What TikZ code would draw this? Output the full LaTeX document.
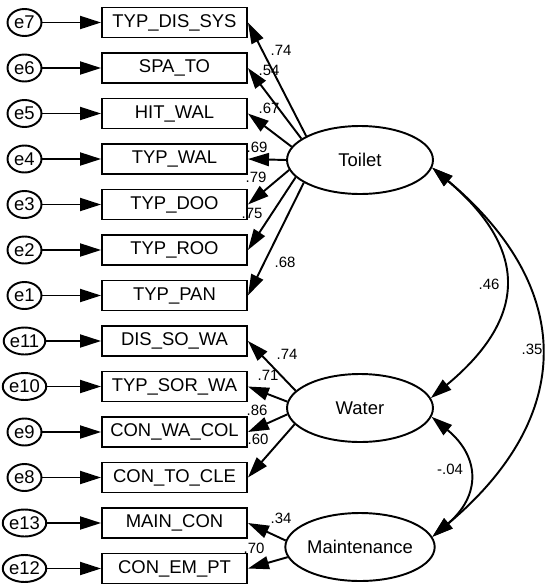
\documentclass[tikz,border=0pt]{standalone}
\usepackage{fontspec}
\setmainfont{Liberation Sans}
\usepackage{tikz}
\usetikzlibrary{positioning,calc,arrows.meta,shapes.geometric}

\begin{document}
\begin{tikzpicture}[
            x=0.02cm, y=-0.02cm,
            line width=1.1pt,
            font=\fontsize{10.5}{12}\selectfont,
            obs/.style={draw, rectangle, minimum width=2.9cm, minimum height=0.6cm, inner sep=0pt},
            err/.style={draw, ellipse, minimum width=0.68cm, minimum height=0.54cm, inner sep=0pt},
            latent/.style={draw, ellipse, minimum width=2.92cm, minimum height=1.36cm, inner sep=0pt},
            arrow/.style={-{Triangle[length=0.42cm, width=0.26cm]}},
            covarrow/.style={{Triangle[length=0.42cm, width=0.26cm]}-{Triangle[length=0.42cm, width=0.26cm]}},
            coef/.style={font=\fontsize{8.5}{10}\selectfont, inner sep=0pt}
        ]
            \useasboundingbox (0,0) rectangle (545,585);

            % observed variables
            \node[obs] (tds) at (174.5,22.5) {TYP\_DIS\_SYS};
            \node[obs] (spa) at (174.5,68) {SPA\_TO};
            \node[obs] (hit) at (174.5,113.5) {HIT\_WAL};
            \node[obs] (twal) at (174.5,159) {TYP\_WAL};
            \node[obs] (tdoo) at (174.5,204.5) {TYP\_DOO};
            \node[obs] (troo) at (174.5,250) {TYP\_ROO};
            \node[obs] (tpan) at (174.5,295.5) {TYP\_PAN};
            \node[obs] (dsw) at (174.5,341) {DIS\_SO\_WA};
            \node[obs] (tsw) at (174.5,386.5) {TYP\_SOR\_WA};
            \node[obs] (cwc) at (174.5,432) {CON\_WA\_COL};
            \node[obs] (ctc) at (174.5,477.5) {CON\_TO\_CLE};
            \node[obs] (mcon) at (174.5,523) {MAIN\_CON};
            \node[obs] (cep) at (174.5,568.5) {CON\_EM\_PT};

            % error terms
            \node[err] (e7) at (24.5,22.5) {e7};
            \node[err] (e6) at (24.5,68) {e6};
            \node[err] (e5) at (24.5,113.5) {e5};
            \node[err] (e4) at (24.5,159) {e4};
            \node[err] (e3) at (24.5,204.5) {e3};
            \node[err] (e2) at (24.5,250) {e2};
            \node[err] (e1) at (24.5,295.5) {e1};
            \node[err] (e11) at (24.5,341) {e11};
            \node[err] (e10) at (24.5,386.5) {e10};
            \node[err] (e9) at (24.5,432) {e9};
            \node[err] (e8) at (24.5,477.5) {e8};
            \node[err] (e13) at (24.5,523) {e13};
            \node[err] (e12) at (24.5,568.5) {e12};

            \draw[arrow] (e7) -- (tds);
            \draw[arrow] (e6) -- (spa);
            \draw[arrow] (e5) -- (hit);
            \draw[arrow] (e4) -- (twal);
            \draw[arrow] (e3) -- (tdoo);
            \draw[arrow] (e2) -- (troo);
            \draw[arrow] (e1) -- (tpan);
            \draw[arrow] (e11) -- (dsw);
            \draw[arrow] (e10) -- (tsw);
            \draw[arrow] (e9) -- (cwc);
            \draw[arrow] (e8) -- (ctc);
            \draw[arrow] (e13) -- (mcon);
            \draw[arrow] (e12) -- (cep);

            % latent variables
            \node[latent] (toilet) at (360,160) {Toilet};
            \node[latent] (water) at (360,408) {Water};
            \node[latent] (maint) at (360,547) {Maintenance};

            \draw[arrow] (toilet.156) -- (tds.east);
            \draw[arrow] (toilet.160) -- (spa.east);
            \draw[arrow] (toilet.169) -- (hit.east);
            \draw[arrow] (toilet.west) -- (twal.east);
            \draw[arrow] (toilet.188) -- (tdoo.east);
            \draw[arrow] (toilet.195) -- (troo.east);
            \draw[arrow] (toilet.202) -- (tpan.east);
            \draw[arrow] (water.165) -- (dsw.east);
            \draw[arrow] (water.175) -- (tsw.east);
            \draw[arrow] (water.185) -- (cwc.east);
            \draw[arrow] (water.194) -- (ctc.east);
            \draw[arrow] (maint.175) -- (mcon.east);
            \draw[arrow] (maint.188) -- (cep.east);

            % covariances
            \draw[covarrow] (toilet.-6) to[bend left=50, looseness=1.4] (water.8);
            \draw[covarrow] (toilet.-6) to[bend left=50, looseness=1.3] (maint.8);
            \draw[covarrow] (water.-7) to[bend left=50, looseness=1.35] (maint.8);

            % loadings
            \node[coef] (ctds) at (281,50) {.74};
            \node[coef] (cspa) at (269,70) {.54};
            \node[coef] (chit) at (269,108) {.67};
            \node[coef] (ctwal) at (257,147) {.69};
            \node[coef] (ctdoo) at (256,177) {.79};
            \node[coef] (ctroo) at (252,213) {.75};
            \node[coef] (ctpan) at (285,262) {.68};
            \node[coef] (cdsw) at (287,354) {.74};
            \node[coef] (ctsw) at (268,375) {.71};
            \node[coef] (ccwc) at (257,410) {.86};
            \node[coef] (cctc) at (258,439) {.60};
            \node[coef] (cmcon) at (281,518) {.34};
            \node[coef] (ccep) at (254,548) {.70};
            \node[coef] (ctw) at (489,284) {.46};
            \node[coef] (ctm) at (532,349) {.35};
            \node[coef] (cwm) at (450,469) {-.04};
        \end{tikzpicture}
\end{document}
